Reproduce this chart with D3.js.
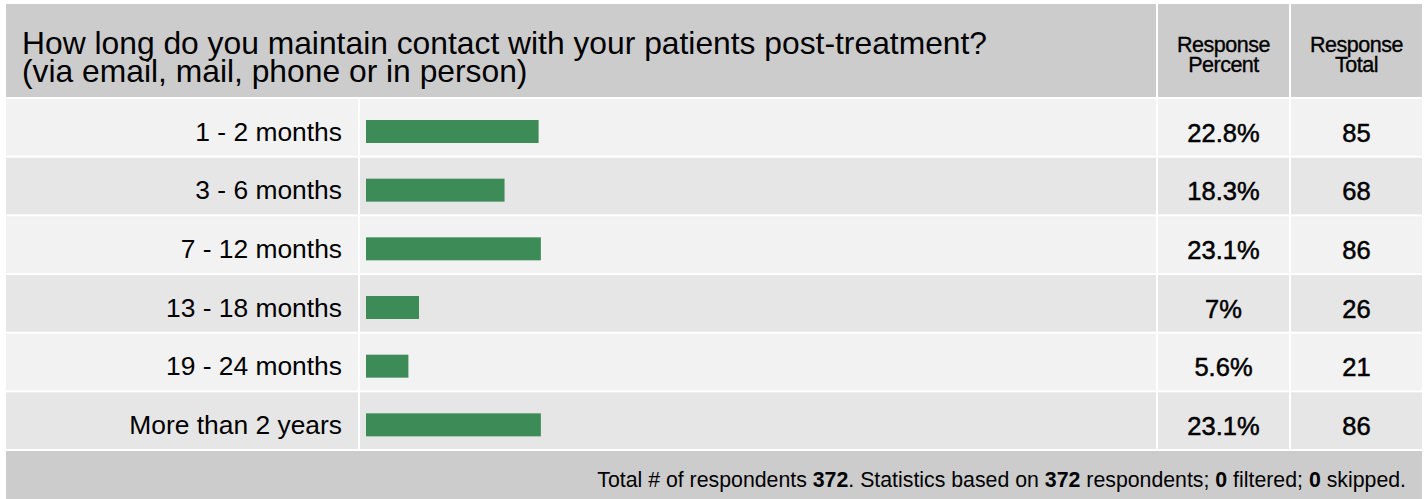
<!DOCTYPE html>
<html>
<head>
<meta charset="utf-8">
<script src="https://cdn.jsdelivr.net/npm/d3@7"></script>
<style>
  html, body { margin: 0; padding: 0; background: #ffffff; }
  svg { display: block; }
  text { font-family: "Liberation Sans", Arial, Helvetica, sans-serif; fill: #000; }
</style>
</head>
<body>
<script>
// ---- data ----
const titleLines = ["How long do you maintain contact with your patients post-treatment?", "(via email, mail, phone or in person)"];
const headerPercent = ["Response", "Percent"];
const headerTotal = ["Response", "Total"];
const categories = ["1 - 2 months", "3 - 6 months", "7 - 12 months", "13 - 18 months", "19 - 24 months", "More than 2 years"];
const percents = [22.8, 18.3, 23.1, 7, 5.6, 23.1];
const totals = [85, 68, 86, 26, 21, 86];
const totalRespondents = 372;
const basedOn = 372;
const filtered = 0;
const skipped = 0;

// ---- layout ----
const W = 1424, H = 499;
const tblLeft = 6, tblRight = 1422, tblTop = 4;
const headerBottom = 97;
const col = { labelEnd: 358, barStart: 360, barEnd: 1156, pctStart: 1158, pctEnd: 1289, totStart: 1291, totEnd: tblRight };
const gap = 2;

const svg = d3.select("body").append("svg").attr("width", W).attr("height", H);

const y = d3.scaleBand().domain(d3.range(categories.length)).range([headerBottom, 449]).padding(0);
const x = d3.scaleLinear().domain([0, 100]).range([0, 757]);
const barX0 = 366;

// header background
svg.append("rect").attr("x", tblLeft).attr("y", tblTop).attr("width", col.barEnd - tblLeft).attr("height", headerBottom - tblTop).attr("fill", "#cccccc");
svg.append("rect").attr("x", col.pctStart).attr("y", tblTop).attr("width", col.pctEnd - col.pctStart).attr("height", headerBottom - tblTop).attr("fill", "#cccccc");
svg.append("rect").attr("x", col.totStart).attr("y", tblTop).attr("width", col.totEnd - col.totStart).attr("height", headerBottom - tblTop).attr("fill", "#cccccc");

// title
titleLines.forEach((t, i) => {
  svg.append("text").attr("x", 22).attr("y", 53.5 + i * 28.5).style("font-size", "31.8px").text(t);
});

// header cells
function headerText(lines, cx) {
  lines.forEach((l, i) => svg.append("text").attr("text-anchor", "middle").style("font-size", "21.5px")
    .style("letter-spacing", "-0.5px").style("stroke", "#000").style("stroke-width", "0.35px")
    .attr("x", cx).attr("y", 52 + i * 19.5).text(l));
}
headerText(headerPercent, (col.pctStart + col.pctEnd) / 2);
headerText(headerTotal, (col.totStart + col.totEnd) / 2);

// rows
const rows = svg.append("g").selectAll("g").data(categories).join("g")
  .attr("transform", (d, i) => `translate(0,${y(i)})`);
const rh = y.bandwidth() - gap;
const fillFor = i => (i % 2 === 0 ? "#f2f2f2" : "#e6e6e6");
rows.append("rect").attr("x", tblLeft).attr("y", gap).attr("width", col.labelEnd - tblLeft).attr("height", rh).attr("fill", (d, i) => fillFor(i));
rows.append("rect").attr("x", col.barStart).attr("y", gap).attr("width", col.barEnd - col.barStart).attr("height", rh).attr("fill", (d, i) => fillFor(i));
rows.append("rect").attr("x", col.pctStart).attr("y", gap).attr("width", col.pctEnd - col.pctStart).attr("height", rh).attr("fill", (d, i) => fillFor(i));
rows.append("rect").attr("x", col.totStart).attr("y", gap).attr("width", col.totEnd - col.totStart).attr("height", rh).attr("fill", (d, i) => fillFor(i));

rows.append("text").attr("x", 342).attr("y", gap + 41.5).attr("text-anchor", "end").style("font-size", "26.4px").text(d => d);

rows.append("rect").attr("x", barX0).attr("y", 23).attr("height", 23)
  .attr("width", (d, i) => x(percents[i])).attr("fill", "#3d8c58");

rows.append("text").attr("x", (col.pctStart + col.pctEnd) / 2).attr("y", gap + 42.5).attr("text-anchor", "middle")
  .style("font-size", "25.5px").style("stroke", "#000").style("stroke-width", "0.5px")
  .text((d, i) => `${percents[i]}%`);
rows.append("text").attr("x", (col.totStart + col.totEnd) / 2).attr("y", gap + 42.5).attr("text-anchor", "middle")
  .style("font-size", "25.5px").style("stroke", "#000").style("stroke-width", "0.5px")
  .text((d, i) => totals[i]);

// footer
const footTop = y.range()[1] + gap;
svg.append("rect").attr("x", tblLeft).attr("y", footTop).attr("width", tblRight - tblLeft).attr("height", H - footTop).attr("fill", "#cccccc");
const foot = svg.append("text").attr("x", 1406).attr("y", 487).attr("text-anchor", "end").style("font-size", "21.3px");
const parts = [
  ["Total # of respondents ", false], [String(totalRespondents), true], [". Statistics based on ", false],
  [String(basedOn), true], [" respondents; ", false], [String(filtered), true], [" filtered; ", false],
  [String(skipped), true], [" skipped.", false]
];
parts.forEach(([t, b]) => foot.append("tspan").style("font-weight", b ? "bold" : "normal").text(t));
</script>
</body>
</html>
